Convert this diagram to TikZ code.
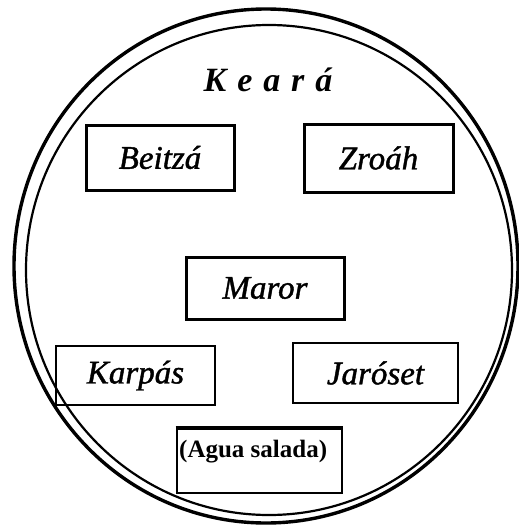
\documentclass[tikz,border=0pt]{standalone}
\usepackage{fontspec}
\setmainfont{Liberation Serif}
\newfontfamily\labelfont[FakeBold=1.2]{Liberation Serif}
\begin{document}
\begin{tikzpicture}[x=1pt,y=-1pt,
  box/.style={draw, line width=3pt, inner sep=0pt, font=\labelfont\fontsize{33}{33}\selectfont\itshape},
  thinbox/.style={box, line width=2.6pt},
  titletext/.style={font=\fontsize{34}{34}\selectfont\bfseries\itshape, inner sep=0pt, anchor=base},
  plaintext/.style={font=\fontsize{25}{25}\selectfont\bfseries, inner sep=0pt}]
\useasboundingbox (0,0) rectangle (519,525);
\fill[white] (0,0) rectangle (519,525);
% double rim
\draw[line width=3.4pt] (266,266) ellipse [x radius=252pt, y radius=257pt];
\draw[line width=2.2pt] (269,270) ellipse [x radius=243pt, y radius=245pt];
% title
\node[titletext] (keara) at (268,91) {K\hspace{0.32em}e\hspace{0.32em}a\hspace{0.32em}r\hspace{0.32em}á};
% boxes
\node[box, minimum width=148pt, minimum height=65pt] (beitza) at (160,157.5) {Beitzá};
\node[box, minimum width=149pt, minimum height=68pt] (zroah) at (378.5,158) {Zroáh};
\node[box, minimum width=158pt, minimum height=62pt] (maror) at (265,288) {Maror};
\node[thinbox, minimum width=159pt, minimum height=59pt] (karpas) at (135.5,375.5) {Karpás};
\node[thinbox, minimum width=165pt, minimum height=60pt] (jaroset) at (375.5,373) {Jaróset};
\node[thinbox, minimum width=165pt, minimum height=65pt] (agua) at (259.5,460.5) {};
\draw[line width=4pt] ([yshift=-1pt]agua.north west) -- ([yshift=-1pt]agua.north east);
\node[plaintext, anchor=west] (aguatxt) at (179,452) {(Agua salada)};
\end{tikzpicture}
\end{document}
